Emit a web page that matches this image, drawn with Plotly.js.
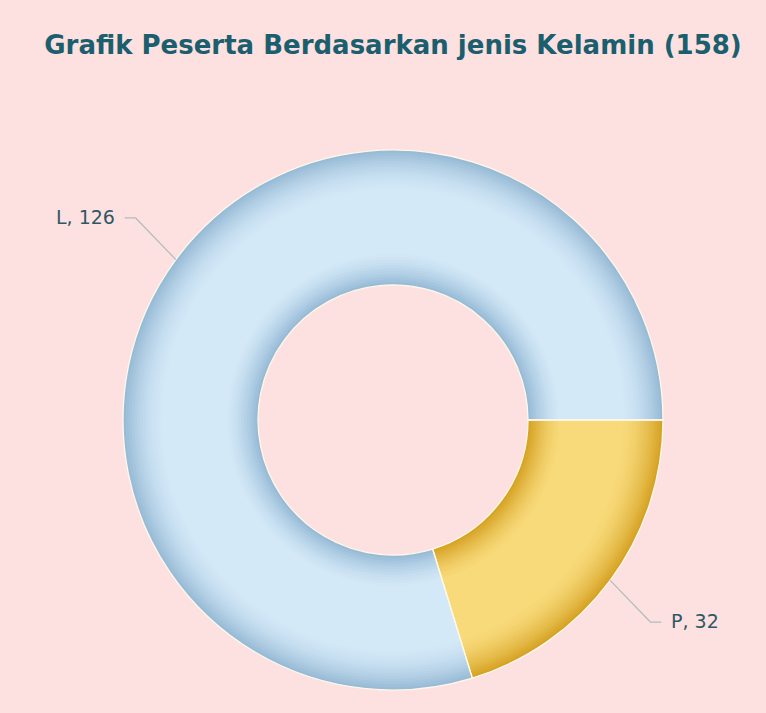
<!DOCTYPE html>
<html>
<head>
<meta charset="utf-8">
<script src="https://cdn.plot.ly/plotly-3.0.1.min.js"></script>
<style>html,body{margin:0;padding:0;background:#fde1e1;}</style>
</head>
<body>
<div id="chart" style="width:766px;height:713px;"></div>
<script>
// ---- data ----
const categories = ["P", "L"];
const counts = [32, 126];
const chartTitle = "Grafik Peserta Berdasarkan jenis Kelamin (158)";

// ---- styling ----
const W = 766, H = 713;
const M = {l: 123, r: 103, t: 150, b: 23};
const PW = W - M.l - M.r; // 540
const holeFrac = 0.5;
const lightCols = {P: [248, 218, 122], L: [212, 233, 248]};
const darkCols  = {P: [212, 160, 32],  L: [148, 184, 212]};

function mix(a, b, d) {
  return 'rgb(' + a.map((v, i) => Math.round(v + (b[i] - v) * d)).join(',') + ')';
}
function darkness(t) {
  const inner = Math.max(0, 1 - t / 0.25);
  const outer = Math.max(0, (t - 0.68) / 0.32);
  return Math.max(Math.pow(inner, 1.5), Math.pow(outer, 1.7));
}

const total = counts.reduce((a, b) => a + b, 0);
const traces = [];
const N = 48;
const rIn = holeFrac * 0.5, rOut = 0.5; // fractions of plot size
const step = (rOut - rIn) / N;
for (let k = 0; k < N; k++) {
  const inner = rIn + k * step;
  const outer = (k === N - 1) ? rOut : inner + step * 1.6;
  const t = (k + 0.5) / N;
  const d = darkness(t);
  traces.push({
    type: 'pie',
    values: counts,
    labels: categories,
    sort: false,
    direction: 'clockwise',
    rotation: 90,
    hole: inner / outer,
    domain: {x: [0.5 - outer, 0.5 + outer], y: [0.5 - outer, 0.5 + outer]},
    marker: {colors: categories.map(c => mix(lightCols[c], darkCols[c], d)), line: {width: 0}},
    textinfo: 'none',
    hoverinfo: 'skip',
    showlegend: false
  });
}
// outline trace
traces.push({
  type: 'pie',
  values: counts,
  labels: categories,
  sort: false,
  direction: 'clockwise',
  rotation: 90,
  hole: holeFrac,
  domain: {x: [0, 1], y: [0, 1]},
  marker: {colors: ['rgba(0,0,0,0)', 'rgba(0,0,0,0)'], line: {width: 1.3, color: '#fdf8ea'}},
  textinfo: 'none',
  hoverinfo: 'skip',
  showlegend: false
});

// leader lines and labels computed from data angles
const shapes = [];
const annotations = [];
let cum = 0;
const px = p => p / PW;
const rEdge = 0.5, rElbowX = 0.5 * 320 / 270, rElbowY = 0.5 * 340 / 270;
counts.forEach((v, i) => {
  const midFrac = (cum + v / 2) / total;
  cum += v;
  // start at 3 o'clock (angle 0), clockwise
  const ang = -midFrac * 2 * Math.PI;
  const cx = 0.5, cy = 0.5;
  const x0 = cx + rEdge * Math.cos(ang), y0 = cy + rEdge * Math.sin(ang);
  const x1 = cx + rElbowX * Math.cos(ang), y1 = cy + rElbowY * Math.sin(ang);
  const right = Math.cos(ang) >= 0;
  const x2 = x1 + (right ? 1 : -1) * px(11);
  shapes.push({
    type: 'path', xref: 'paper', yref: 'paper',
    path: `M ${x0} ${y0} L ${x1} ${y1} L ${x2} ${y1}`,
    line: {color: '#b3bcbd', width: 1.2}
  });
  annotations.push({
    xref: 'paper', yref: 'paper',
    x: x2 + (right ? 1 : -1) * px(8), y: y1 + px(1),
    xanchor: right ? 'left' : 'right', yanchor: 'middle',
    text: categories[i] + ', ' + v,
    showarrow: false,
    font: {family: 'DejaVu Sans, Verdana, sans-serif', size: 19, color: '#2f5866'}
  });
});

const layout = {
  width: W, height: H,
  margin: M,
  paper_bgcolor: '#fde1e1',
  plot_bgcolor: '#fde1e1',
  showlegend: false,
  title: {
    text: '<b>' + chartTitle + '</b>',
    x: 0.5, xanchor: 'center', xref: 'paper',
    y: 1 - 45 / H, yref: 'container', yanchor: 'middle',
    font: {family: 'DejaVu Sans, Verdana, sans-serif', size: 26, color: '#1b5e6e'}
  },
  shapes: shapes,
  annotations: annotations
};

Plotly.newPlot('chart', traces, layout, {displayModeBar: false, staticPlot: true});
</script>
</body>
</html>
